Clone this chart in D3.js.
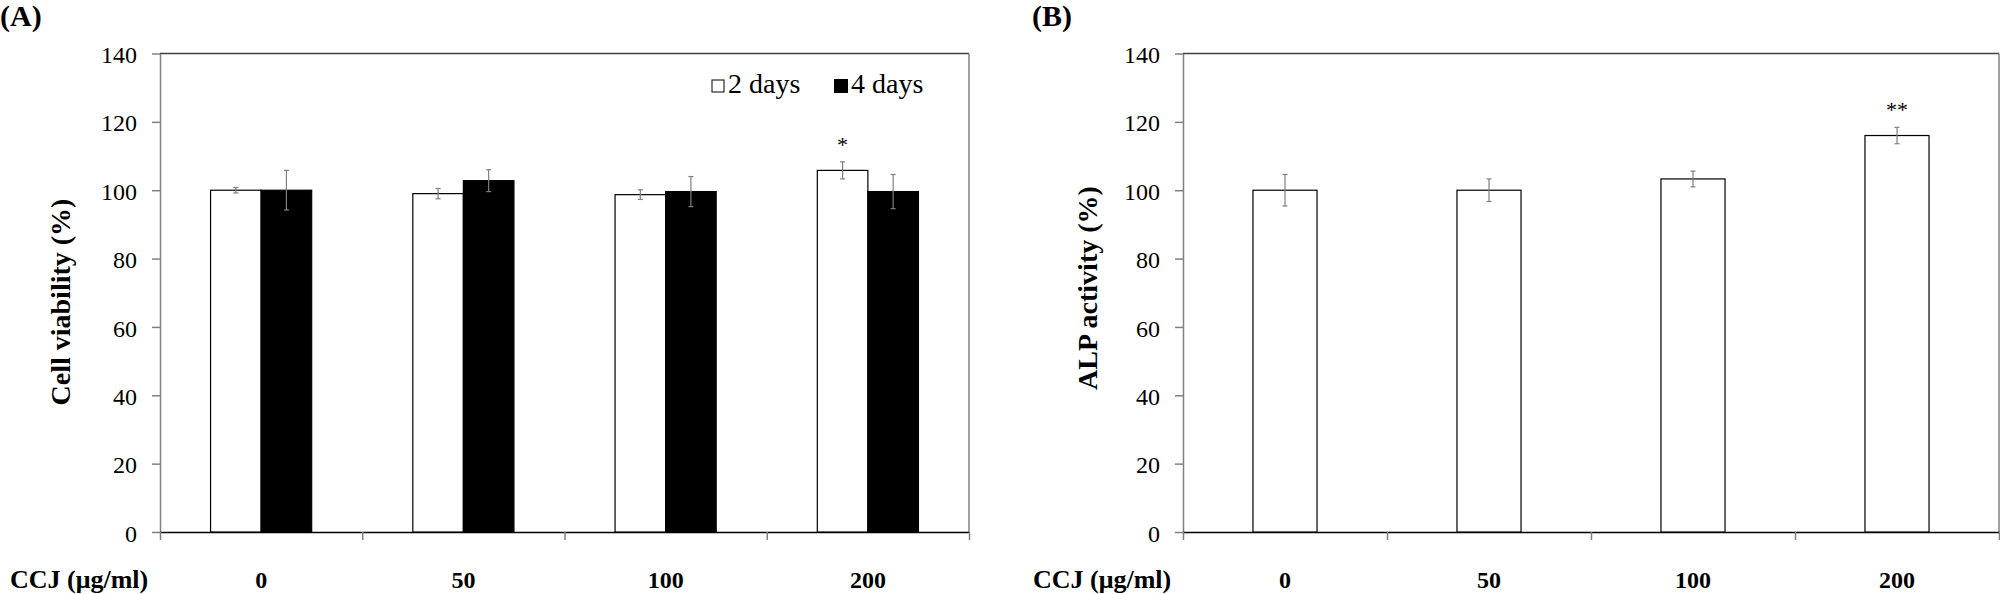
<!DOCTYPE html>
<html>
<head>
<meta charset="utf-8">
<script src="https://cdn.jsdelivr.net/npm/d3@7"></script>
<style>
  body { margin: 0; background: #fff; }
</style>
</head>
<body>
<svg id="chart" width="2000" height="594"></svg>
<script>
// data
const doses = ['0', '50', '100', '200'];
const yTicks = [0, 20, 40, 60, 80, 100, 120, 140];

// (A) cell viability
const viability2d = [100, 99.0, 98.7, 105.8];
const viability2dErr = [0.8, 1.5, 1.4, 2.5];
const viability4d = [100, 102.8, 99.6, 99.6];
const viability4dErr = [5.8, 3.2, 4.4, 5.0];
const viabilitySig = ['', '', '', '*'];

// (B) ALP activity
const alpActivity = [100, 100, 103.3, 116.0];
const alpErr = [4.6, 3.3, 2.3, 2.4];
const alpSig = ['', '', '', '**'];

const SERIF = "'Liberation Serif', 'Times New Roman', Tinos, 'DejaVu Serif', serif";

const svg = d3.select('#chart').attr('font-family', SERIF);
const top0 = 53.5;
const bottom0 = 532;
const y = d3.scaleLinear().domain([0, 140]).range([bottom0, top0]);

function label(g, txt, x, yy, size, bold) {
  return g.append('text').attr('x', x).attr('y', yy)
    .attr('font-family', SERIF).attr('font-size', size)
    .attr('font-weight', bold ? 'bold' : 'normal')
    .attr('fill', '#000')
    .text(txt);
}

// frame, axes and labels of one panel
function frame(left, right, letter, letterX, title, titleX, titleY, ccjX) {
  const g = svg.append('g');
  const band = d3.scaleBand().domain(doses).range([left, right]);
  const idx = d3.scaleLinear().domain([0, doses.length]).range([left, right]);

  // top and right border
  g.append('line').attr('x1', left).attr('x2', right).attr('y1', top0).attr('y2', top0)
    .attr('stroke', '#404040').attr('stroke-width', 1.5);
  g.append('line').attr('x1', right).attr('x2', right).attr('y1', top0).attr('y2', bottom0)
    .attr('stroke', '#808080').attr('stroke-width', 1.5);

  const ya = g.append('g').attr('transform', `translate(${left},0)`)
    .call(d3.axisLeft(y).tickValues(yTicks).tickSize(8).tickPadding(15).tickSizeOuter(0));
  ya.attr('font-family', SERIF);
  ya.select('.domain').attr('stroke', '#808080').attr('stroke-width', 1.5);
  ya.selectAll('.tick line').attr('stroke', '#808080').attr('stroke-width', 1.5);
  ya.selectAll('.tick text').attr('font-size', 24).attr('font-family', SERIF)
    .attr('fill', '#000').attr('dy', '0.38em');

  const xa = g.append('g').attr('transform', `translate(0,${bottom0})`)
    .call(d3.axisBottom(idx).tickValues(d3.range(doses.length + 1)).tickFormat('')
      .tickSize(8).tickSizeOuter(0));
  xa.select('.domain').attr('stroke', '#000').attr('stroke-width', 1.5);
  xa.selectAll('.tick line').attr('stroke', '#808080').attr('stroke-width', 1.5);

  doses.forEach((d) => {
    label(g, d, band(d) + band.bandwidth() / 2, 588, 24, true).attr('text-anchor', 'middle');
  });

  label(g, 'CCJ (μg/ml)', ccjX, 588, 26, true);
  label(g, letter, letterX, 26, 30, true);

  label(g, title, 0, 0, 28, true)
    .attr('transform', `translate(${titleX},${titleY}) rotate(-90)`)
    .attr('text-anchor', 'middle').attr('dy', '0.35em');

  return { g, band };
}

// error bars with small caps
function errBars(g, xs, vals, errs) {
  vals.forEach((v, i) => {
    const x = xs[i];
    const y1 = y(v + errs[i]);
    const y2 = y(v - errs[i]);
    g.append('line').attr('x1', x).attr('x2', x).attr('y1', y1).attr('y2', y2)
      .attr('stroke', '#7f7f7f').attr('stroke-width', 1.2);
    [y1, y2].forEach((yy) => {
      g.append('line').attr('x1', x - 2.5).attr('x2', x + 2.5).attr('y1', yy).attr('y2', yy)
        .attr('stroke', '#7f7f7f').attr('stroke-width', 1.2);
    });
  });
}

// (A) grouped bars
const pa = frame(160, 969, '(A)', 0, 'Cell viability (%)', 60, 302, 10);
const sub = d3.scaleBand().domain(['2d', '4d'])
  .range([pa.band.bandwidth() * 0.25, pa.band.bandwidth() * 0.75]);
const seriesA = [
  { key: '2d', vals: viability2d, errs: viability2dErr, fill: '#fff' },
  { key: '4d', vals: viability4d, errs: viability4dErr, fill: '#000' }
];
seriesA.forEach((s) => {
  pa.g.selectAll(`.bar${s.key}`).data(s.vals).enter().append('rect')
    .attr('x', (d, i) => pa.band(doses[i]) + sub(s.key))
    .attr('y', (d) => y(d))
    .attr('width', sub.bandwidth())
    .attr('height', (d) => y(0) - y(d))
    .attr('fill', s.fill)
    .attr('stroke', '#000').attr('stroke-width', 1.2);
  const xs = doses.map((d) => pa.band(d) + sub(s.key) + sub.bandwidth() / 2);
  errBars(pa.g, xs, s.vals, s.errs);
});
viabilitySig.forEach((s, i) => {
  label(pa.g, s, pa.band(doses[i]) + sub('2d') + sub.bandwidth() / 2,
    y(viability2d[i] + viability2dErr[i]) - 10, 22, false).attr('text-anchor', 'middle');
});

// legend
const legend = pa.g.append('g').attr('transform', 'translate(712,80)');
legend.append('rect').attr('x', 0).attr('y', 0).attr('width', 12).attr('height', 12)
  .attr('fill', '#fff').attr('stroke', '#000').attr('stroke-width', 1);
label(legend, '2 days', 16, 13, 28, false);
legend.append('rect').attr('x', 122).attr('y', -1).attr('width', 14).attr('height', 14)
  .attr('fill', '#000');
label(legend, '4 days', 139, 13, 28, false);

// (B) single bars
const pb = frame(1183, 1999, '(B)', 1032, 'ALP activity (%)', 1087, 288, 1033);
const barW = pb.band.bandwidth() * 0.314;
pb.g.selectAll('.barB').data(alpActivity).enter().append('rect')
  .attr('x', (d, i) => pb.band(doses[i]) + (pb.band.bandwidth() - barW) / 2)
  .attr('y', (d) => y(d))
  .attr('width', barW)
  .attr('height', (d) => y(0) - y(d))
  .attr('fill', '#fff')
  .attr('stroke', '#000').attr('stroke-width', 1.2);
errBars(pb.g, doses.map((d) => pb.band(d) + pb.band.bandwidth() / 2), alpActivity, alpErr);
alpSig.forEach((s, i) => {
  label(pb.g, s, pb.band(doses[i]) + pb.band.bandwidth() / 2,
    y(alpActivity[i] + alpErr[i]) - 10, 22, false).attr('text-anchor', 'middle');
});
</script>
</body>
</html>
